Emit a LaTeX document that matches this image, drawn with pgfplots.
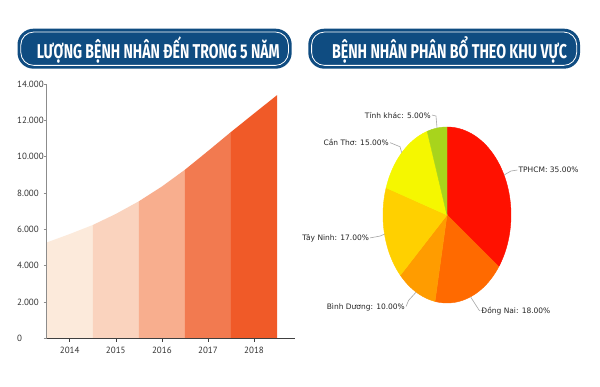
\documentclass[border=0pt]{standalone}
\usepackage{fontspec}
\setmainfont{PT Sans}
\newfontfamily\titlefont{Fira Sans}
\newfontfamily\labelfont{DejaVu Sans}
\usepackage{pgfplots}
\pgfplotsset{compat=1.18}
\definecolor{titleblue}{HTML}{0F4C81}
\definecolor{b14}{HTML}{FCEADB}
\definecolor{b15}{HTML}{FAD3BE}
\definecolor{b16}{HTML}{F8AE8E}
\definecolor{b17}{HTML}{F27A50}
\definecolor{b18}{HTML}{F05A28}
\definecolor{cTP}{HTML}{FF1100}
\definecolor{cDN}{HTML}{FF6A00}
\definecolor{cBD}{HTML}{FF9C00}
\definecolor{cTN}{HTML}{FFD000}
\definecolor{cCT}{HTML}{F5F700}
\definecolor{cTK}{HTML}{A8D41C}
\begin{document}
\begin{tikzpicture}[x=1pt,y=1pt]
\useasboundingbox (0,0) rectangle (600,386);
\fill[white] (0,0) rectangle (600,386);
% title boxes
\fill[titleblue, rounded corners=16pt] (17.5,317.3) rectangle (291.7,357.3);
\draw[white, line width=0.8pt, rounded corners=13pt] (20.8,320.6) rectangle (288.4,354);
\node[anchor=base, inner sep=0, text=white] at (158.3,327) {\resizebox{243pt}{\height}{\titlefont\fontsize{20}{20}\selectfont\bfseries LƯỢNG BỆNH NHÂN ĐẾN TRONG 5 NĂM}};
\fill[titleblue, rounded corners=16pt] (308.3,317.3) rectangle (580,357.3);
\draw[white, line width=0.8pt, rounded corners=13pt] (311.6,320.6) rectangle (576.7,354);
\node[anchor=base, inner sep=0, text=white] at (449.5,327) {\resizebox{235pt}{\height}{\titlefont\fontsize{20}{20}\selectfont\bfseries BỆNH NHÂN PHÂN BỔ THEO KHU VỰC}};

% area chart
\begin{axis}[
  at={(46.7pt,47.5pt)}, anchor=south west, scale only axis,
  width=248.3pt, height=254.5pt,
  xmin=0, xmax=5.39, ymin=0, ymax=14000,
  axis x line=bottom, axis y line=left,
  axis line style={-},
  x axis line style={draw=black!75, line width=0.8pt},
  y axis line style={draw=black!45, line width=0.8pt},
  xtick={0.5,1.5,2.5,3.5,4.5}, xticklabels={2014,2015,2016,2017,2018},
  ytick={0,2000,4000,6000,8000,10000,12000,14000},
  yticklabels={0,2.000,4.000,6.000,8.000,10.000,12.000,14.000},
  scaled y ticks=false,
  tick align=outside, major tick length=3pt,
  xtick style={draw=black!75, line width=0.6pt},
  ytick style={draw=black!45, line width=0.6pt},
  tick label style={font=\fontsize{9}{9}\selectfont, text=black!80},
  /pgf/number format/assume math mode=true,
  yticklabel style={anchor=west, xshift=-30pt},
  xticklabel style={yshift=-2pt},
  axis on top,
]
\addplot[fill=b14, draw=none] coordinates {(0,5282) (0.5,5746) (1,6243)} \closedcycle;
\addplot[fill=b15, draw=none] coordinates {(1,6243) (1.5,6851) (2,7547)} \closedcycle;
\addplot[fill=b16, draw=none] coordinates {(2,7547) (2.5,8359) (3,9282)} \closedcycle;
\addplot[fill=b17, draw=none] coordinates {(3,9282) (3.5,10310) (4,11359)} \closedcycle;
\addplot[fill=b18, draw=none] coordinates {(4,11359) (4.5,12376) (5,13387)} \closedcycle;
\end{axis}

% pie chart: TPHCM 35, Dong Nai 18, Binh Duong 10, Tay Ninh 17, Can Tho 15, Tinh khac 5 (percent)
\begin{axis}[
  at={(447pt,171pt)}, anchor=center, scale only axis,
  width=128pt, height=176pt,
  xmin=-1, xmax=1, ymin=-1, ymax=1,
  hide axis, clip=false,
]
\addplot[draw=cTP, fill=cTP, domain=-36:90, samples=90] ({cos(x)},{sin(x)}) -- (axis cs:0,0) -- cycle;
\addplot[draw=cDN, fill=cDN, domain=-100.8:-36, samples=50] ({cos(x)},{sin(x)}) -- (axis cs:0,0) -- cycle;
\addplot[draw=cBD, fill=cBD, domain=-136.8:-100.8, samples=30] ({cos(x)},{sin(x)}) -- (axis cs:0,0) -- cycle;
\addplot[draw=cTN, fill=cTN, domain=-198:-136.8, samples=50] ({cos(x)},{sin(x)}) -- (axis cs:0,0) -- cycle;
\addplot[draw=cCT, fill=cCT, domain=-252:-198, samples=40] ({cos(x)},{sin(x)}) -- (axis cs:0,0) -- cycle;
\addplot[draw=cTK, fill=cTK, domain=-270:-252, samples=20] ({cos(x)},{sin(x)}) -- (axis cs:0,0) -- cycle;
% leader lines
\addplot[black!35, line width=0.6pt] coordinates {(-0.156,0.989) (-0.172,1.125) (-0.234,1.136)};
\addplot[black!35, line width=0.6pt] coordinates {(-0.708,0.708) (-0.734,0.776) (-0.89,0.822)};
\addplot[black!35, line width=0.6pt] coordinates {(0.891,0.454) (1.0,0.5) (1.1,0.511)};
\addplot[black!35, line width=0.6pt] coordinates {(-0.976,-0.218) (-1.05,-0.24) (-1.2,-0.26)};
\addplot[black!35, line width=0.6pt] coordinates {(-0.482,-0.876) (-0.6,-0.97) (-0.64,-1.04)};
\addplot[black!35, line width=0.6pt] coordinates {(0.368,-0.930) (0.5,-1.08) (0.52,-1.09)};
% labels
\tikzset{pl/.style={font=\labelfont\fontsize{7.5}{8}\selectfont, text=black!85, inner sep=1pt}}
\node[pl, anchor=east] at (axis cs:-0.234,1.136) {Tỉnh khác: 5.00\%};
\node[pl, anchor=east] at (axis cs:-0.89,0.822) {Cần Thơ: 15.00\%};
\node[pl, anchor=west] at (axis cs:1.1,0.511) {TPHCM: 35.00\%};
\node[pl, anchor=east] at (axis cs:-1.2,-0.265) {Tây Ninh: 17.00\%};
\node[pl, anchor=east] at (axis cs:-0.64,-1.045) {Bình Dương: 10.00\%};
\node[pl, anchor=west] at (axis cs:0.52,-1.095) {Đồng Nai: 18.00\%};
\end{axis}
\end{tikzpicture}
\end{document}
